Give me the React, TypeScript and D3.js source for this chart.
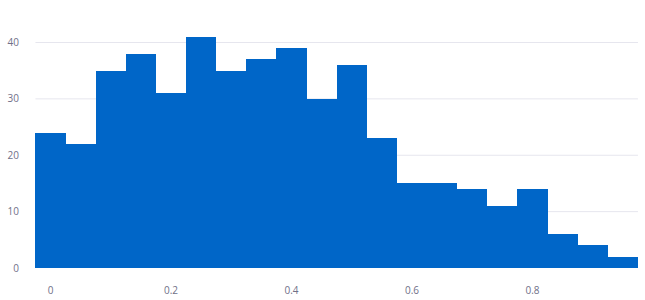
import React from "react";
import * as d3 from "d3";

const binStarts = [-0.025, 0.025, 0.075, 0.125, 0.175, 0.225, 0.275, 0.325, 0.375, 0.425, 0.475, 0.525, 0.575, 0.625, 0.675, 0.725, 0.775, 0.825, 0.875, 0.925];
const binWidth = 0.05;
const counts = [24, 22, 35, 38, 31, 41, 35, 37, 39, 30, 36, 23, 15, 15, 14, 11, 14, 6, 4, 2];
const xTicks = [0, 0.2, 0.4, 0.6, 0.8];
const yTicks = [0, 10, 20, 30, 40];

const W = 645, H = 300;

export default function App() {
  const x = d3.scaleLinear().domain([0, 0.8]).range([50.5, 532.5]);
  const y = d3.scaleLinear().domain([0, 40]).range([268, 42.5]);
  const gridX0 = x(-0.025), gridX1 = x(0.975);
  const font = "'Open Sans', sans-serif";
  return (
    <svg width={W} height={H} style={{ position: "absolute", left: 0, top: 0, display: "block" }}>
      {yTicks.slice(1).map((t) => (
        <line key={t} x1={gridX0} x2={gridX1} y1={y(t)} y2={y(t)} stroke="#e6e6ee" strokeWidth={1} />
      ))}
      <g shapeRendering="crispEdges">
        {counts.map((c, i) => {
          const x0 = Math.round(x(binStarts[i]));
          const x1 = Math.round(x(binStarts[i] + binWidth));
          const y0 = Math.round(y(c));
          const yb = Math.round(y(0));
          return <rect key={i} x={x0} width={x1 - x0} y={y0} height={yb - y0} fill="#0066c8" />;
        })}
      </g>
      {yTicks.map((t) => (
        <text key={t} x={19} y={y(t)} dy="0.35em" textAnchor="end" fontFamily={font} fontSize={10} fill="#707088">{t}</text>
      ))}
      {xTicks.map((t) => (
        <text key={t} x={x(t)} y={290} dy="0.35em" textAnchor="middle" fontFamily={font} fontSize={10} fill="#707088">{t}</text>
      ))}
    </svg>
  );
}
